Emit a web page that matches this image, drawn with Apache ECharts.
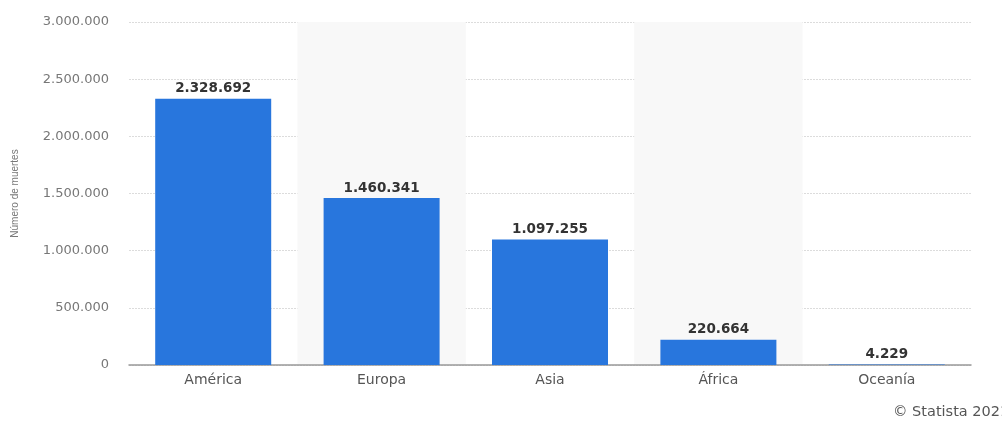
<!DOCTYPE html>
<html><head><meta charset="utf-8">
<script src="https://cdn.jsdelivr.net/npm/echarts@6/dist/echarts.min.js"></script>
<style>html,body{margin:0;padding:0;background:#fff}#c{width:1002px;height:421px}</style>
</head><body><div id="c"></div>
<script>
const categories = ['América', 'Europa', 'Asia', 'África', 'Oceanía'];
const deaths = [2328692, 1460341, 1097255, 220664, 4229];
const yTicks = [0, 500000, 1000000, 1500000, 2000000, 2500000, 3000000];
const fmt = v => String(v).replace(/\B(?=(\d{3})+(?!\d))/g, '.');
const chart = echarts.init(document.getElementById('c'));
chart.setOption({
  animation: false,
  grid: { left: 129, right: 31, top: 22, bottom: 56 },
  xAxis: {
    type: 'category', data: categories,
    axisLine: { lineStyle: { color: '#999', width: 1.5 } },
    axisTick: { show: false },
    axisLabel: { color: '#555', fontFamily: 'DejaVu Sans', fontSize: 14, margin: 8 },
    splitArea: { show: true, areaStyle: { color: ['rgba(0,0,0,0)', '#f8f8f8'] } }
  },
  yAxis: {
    type: 'value', min: yTicks[0], max: yTicks[yTicks.length - 1], interval: 500000,
    name: 'Número de muertes', nameLocation: 'middle', nameGap: 109, nameRotate: 90,
    nameTextStyle: { color: '#777', fontFamily: 'Liberation Sans Narrow, Liberation Sans', fontSize: 10 },
    axisLine: { show: false }, axisTick: { show: false },
    axisLabel: { color: '#777', fontFamily: 'DejaVu Sans', fontSize: 13, margin: 20, formatter: v => fmt(v) },
    splitLine: { lineStyle: { color: '#dcdcdc', type: [2, 1] } }
  },
  series: [{
    type: 'bar', data: deaths, barWidth: 116,
    itemStyle: { color: '#2876dd' },
    label: { show: true, position: 'top', distance: 3, color: '#333', fontFamily: 'DejaVu Sans', fontWeight: 'bold', fontSize: 13.5, formatter: p => fmt(p.value) }
  }],
  graphic: [{
    type: 'text', left: 893, top: 405,
    style: { text: '© Statista 2021', fill: '#555', font: '14.5px DejaVu Sans' }
  }]
});
</script></body></html>
